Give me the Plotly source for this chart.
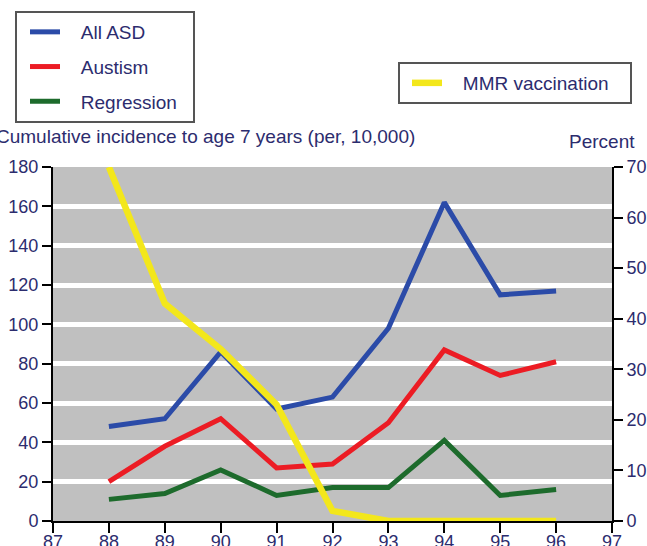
import plotly.graph_objects as go

years = [88, 89, 90, 91, 92, 93, 94, 95, 96]
all_asd = [48, 52, 86, 57, 63, 98, 162, 115, 117]
autism = [20, 38, 52, 27, 29, 50, 87, 74, 81]
regression = [11, 14, 26, 13, 17, 17, 41, 13, 16]
mmr_pct = [70, 43, 34, 23, 2, 0, 0, 0, 0]

x_ticks = list(range(87, 98))
left_ticks = list(range(0, 181, 20))
right_ticks = list(range(0, 71, 10))

NAVY = "#2c2c6e"
FONT = "Liberation Sans, Arial, sans-serif"
SP = "\u00a0\u00a0\u00a0"
TR = "\u00a0\u00a0"

fig = go.Figure()
fig.add_trace(go.Scatter(x=years, y=all_asd, mode="lines", name=SP + "All ASD" + TR,
                         line=dict(color="#2b4ba8", width=5), legend="legend", legendgroup="a"))
fig.add_trace(go.Scatter(x=years, y=autism, mode="lines", name=SP + "Austism" + TR,
                         line=dict(color="#ec1c24", width=5), legend="legend", legendgroup="b"))
fig.add_trace(go.Scatter(x=years, y=regression, mode="lines", name=SP + "Regression" + TR,
                         line=dict(color="#1d6b2c", width=5), legend="legend", legendgroup="c"))
fig.add_trace(go.Scatter(x=years, y=mmr_pct, mode="lines",
                         name=SP + "MMR vaccination" + TR + "\u00a0",
                         line=dict(color="#f3e71b", width=6.5), yaxis="y2", legend="legend2"))

fig.update_layout(
    width=647, height=546,
    margin=dict(l=53, r=35, t=167, b=25, autoexpand=False),
    paper_bgcolor="white",
    plot_bgcolor="#c0c0c0",
    font=dict(family=FONT, size=18, color=NAVY),
    showlegend=True,
    xaxis=dict(range=[87, 97], tickvals=x_ticks, ticktext=[str(v) for v in x_ticks],
               ticks="outside", ticklen=10, tickwidth=1.5, tickcolor="black",
               showline=True, linecolor="black", linewidth=2, showgrid=False,
               zeroline=False, tickangle=0, automargin=False, ticklabelstandoff=-7,
               tickfont=dict(size=18, color=NAVY)),
    yaxis=dict(range=[0, 180], tickvals=left_ticks, ticks="outside", ticklen=9,
               tickwidth=1.5, tickcolor="black", showline=True, linecolor="black",
               linewidth=2, showgrid=True, gridcolor="white", gridwidth=4.5,
               zeroline=False, automargin=False, tickfont=dict(size=18, color=NAVY)),
    yaxis2=dict(range=[0, 70], tickvals=right_ticks, overlaying="y", side="right",
                ticks="outside", ticklen=9, tickwidth=1.5, tickcolor="black",
                showline=True, linecolor="black", linewidth=2, showgrid=False,
                zeroline=False, automargin=False, tickfont=dict(size=18, color=NAVY)),
    legend=dict(x=15 / 647, y=1 - 11 / 546, xref="container", yref="container",
                xanchor="left", yanchor="top", bgcolor="white", indentation=8,
                bordercolor="#555555", borderwidth=2, traceorder="grouped",
                tracegroupgap=7, font=dict(size=19, color=NAVY, family=FONT)),
    legend2=dict(x=398 / 647, y=1 - 62 / 546, xref="container", yref="container",
                 xanchor="left", yanchor="top", bgcolor="white", indentation=7,
                 bordercolor="#555555", borderwidth=2,
                 font=dict(size=19, color=NAVY, family=FONT)),
    annotations=[
        dict(text="Cumulative incidence to age 7 years (per, 10,000)", xref="paper",
             yref="paper", x=-0.105, y=1.087, xanchor="left", yanchor="middle",
             showarrow=False, font=dict(size=19, color=NAVY, family=FONT)),
        dict(text="Percent", xref="paper", yref="paper", x=1.045, y=1.072,
             xanchor="right", yanchor="middle", showarrow=False,
             font=dict(size=19, color=NAVY, family=FONT)),
    ],
)

fig.write_html("out.html", config={"displayModeBar": False},
               post_script="document.body.style.margin='0';")
